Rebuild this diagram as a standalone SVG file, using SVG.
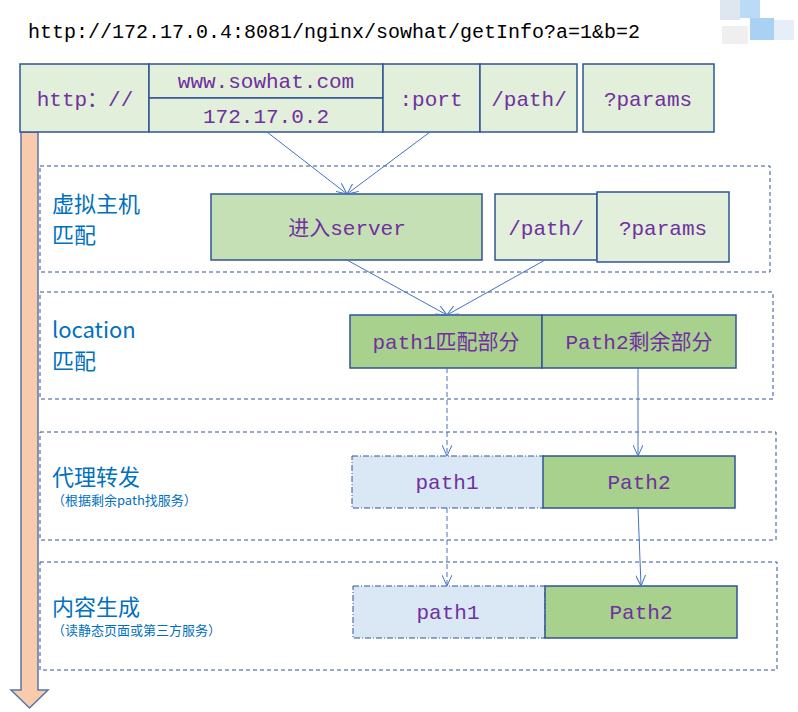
<svg xmlns="http://www.w3.org/2000/svg" width="798" height="712" viewBox="0 0 798 712">
<defs>
<style>
.b{stroke:#2f5597;stroke-width:1.5}
.lt{fill:#e2efda}.md{fill:#c5e0b4}.dk{fill:#a9d18e}
.bl{fill:#dae8f5;stroke:#2f5597;stroke-width:1;stroke-dasharray:6 2 1 2}
.ct{fill:none;stroke:#2f5597;stroke-width:1;stroke-dasharray:4 3}
.t{font-family:"Liberation Mono","Noto Sans CJK SC",monospace;fill:#7030a0;font-size:21px;text-anchor:middle}
.lb{font-family:"Noto Sans CJK SC",sans-serif;fill:#0070c0;font-size:22px}
.sm{font-family:"Noto Sans CJK SC",sans-serif;fill:#0070c0;font-size:13px}
.c{stroke:#4472c4;stroke-width:1;fill:none;marker-end:url(#a)}
.d{stroke-dasharray:5 3}
</style>
<marker id="a" markerWidth="12" markerHeight="10" refX="11" refY="5" orient="auto" markerUnits="userSpaceOnUse"><path d="M0,0 L11,5 L0,10" fill="none" stroke="#4472c4" stroke-width="1"/></marker>
</defs>
<rect width="798" height="712" fill="#fff"/>
<g id="mosaic" opacity="0.6"><rect x="720" y="0" width="20" height="20" fill="#c9d6e6"/><rect x="740" y="0" width="20" height="18" fill="#8fc3ef"/><rect x="750" y="18" width="24" height="22" fill="#6fb3ec"/><rect x="774" y="20" width="20" height="20" fill="#d6e4f2"/><rect x="722" y="26" width="26" height="18" fill="#e6e6e6"/></g>
<text x="28" y="38" font-family="Liberation Mono,monospace" font-size="20" fill="#000">http://172.17.0.4:8081/nginx/sowhat/getInfo?a=1&amp;b=2</text>
<g id="arrow"><path d="M21,132 H38 V690 H48 L29.5,708 L11,690 H21 Z" fill="#f8cbad" stroke="#5b74a8" stroke-width="1.5"/></g>
<g id="containers">
<rect class="ct" x="40" y="166" width="730" height="106"/>
<rect class="ct" x="40" y="292" width="733" height="107"/>
<rect class="ct" x="40" y="432" width="736" height="108"/>
<rect class="ct" x="40" y="562" width="737" height="108"/>
</g>
<g id="url">
<g id="n-http"><rect class="b lt" x="20" y="64" width="129" height="68"/><text class="t" x="85" y="106">http：//</text></g>
<g id="n-www"><rect class="b lt" x="149" y="64" width="234" height="34"/><text class="t" x="266" y="88">www.sowhat.com</text></g>
<g id="n-ip"><rect class="b lt" x="149" y="98" width="234" height="34"/><text class="t" x="266" y="123">172.17.0.2</text></g>
<g id="n-port"><rect class="b lt" x="383" y="64" width="97" height="68"/><text class="t" x="431" y="106">:port</text></g>
<g id="n-path"><rect class="b lt" x="480" y="64" width="97" height="68"/><text class="t" x="529" y="106">/path/</text></g>
<g id="n-params"><rect class="b lt" x="583" y="64" width="131" height="68"/><text class="t" x="648" y="106">?params</text></g>
</g>
<g id="labels">
<text class="lb" x="52" y="212">虚拟主机</text><text class="lb" x="52" y="243">匹配</text>
<text class="lb" x="52" y="338">location</text><text class="lb" x="52" y="369">匹配</text>
<text class="lb" x="52" y="485">代理转发</text><text class="sm" x="52" y="505">（根据剩余path找服务）</text>
<text class="lb" x="52" y="615">内容生成</text><text class="sm" x="52" y="635">（读静态页面或第三方服务）</text>
</g>
<g id="n-server"><rect class="b md" x="211" y="194" width="271" height="66"/><text class="t" x="347" y="235">进入server</text></g>
<g id="n-path2"><rect class="b lt" x="495" y="194" width="102" height="66"/><text class="t" x="546" y="235">/path/</text></g>
<g id="n-params2"><rect class="b lt" x="597" y="192" width="132" height="70"/><text class="t" x="663" y="235">?params</text></g>
<g id="n-p1m"><rect class="b dk" x="350" y="315" width="192" height="53"/><text class="t" x="446" y="349">path1匹配部分</text></g>
<g id="n-p2r"><rect class="b dk" x="542" y="315" width="194" height="53"/><text class="t" x="639" y="349">Path2剩余部分</text></g>
<g id="n-p1a"><rect class="bl" x="352" y="456" width="192" height="52"/><text class="t" x="447" y="489">path1</text></g>
<g id="n-p2a"><rect class="b dk" x="543" y="456" width="192" height="52"/><text class="t" x="639" y="489">Path2</text></g>
<g id="n-p1b"><rect class="bl" x="353" y="586" width="192" height="52"/><text class="t" x="448" y="619">path1</text></g>
<g id="n-p2b"><rect class="b dk" x="545" y="586" width="192" height="52"/><text class="t" x="641" y="619">Path2</text></g>
<g id="connectors">
<path class="c" d="M267,132 L347,194"/>
<path class="c" d="M430,132 L347,194"/>
<path class="c" d="M347,260 L447,315"/>
<path class="c" d="M545,260 L447,315"/>
<path class="c d" d="M447,368 L447,456"/>
<path class="c" d="M638,368 L638,456"/>
<path class="c d" d="M447,508 L447,586"/>
<path class="c" d="M638,508 L641,586"/>
</g>
</svg>
